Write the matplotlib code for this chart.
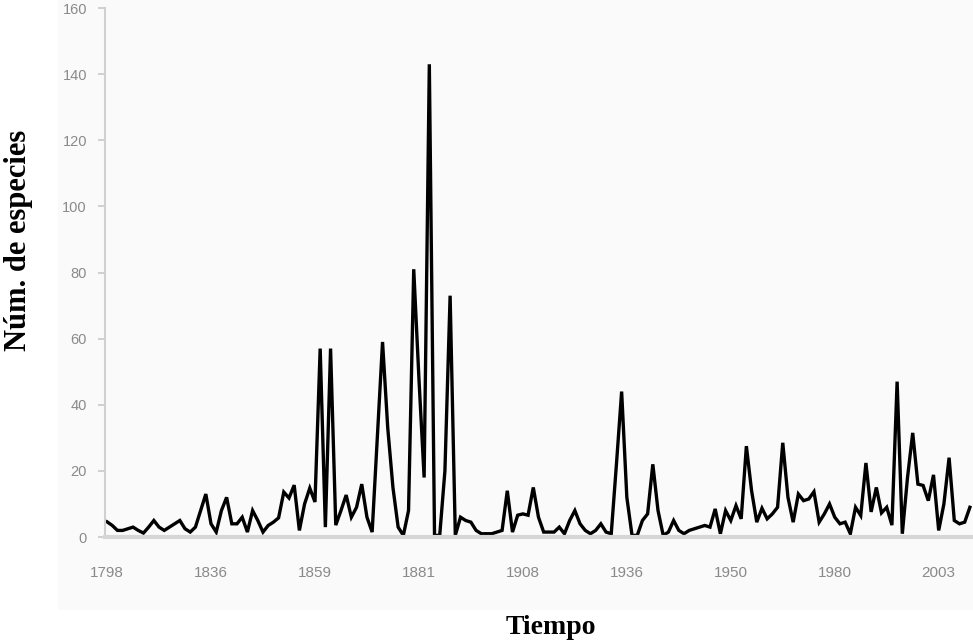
import numpy as np
import matplotlib
matplotlib.use('Agg')
import matplotlib.pyplot as plt
from matplotlib.patches import Rectangle

# years shown on the category axis (one label every 20 categories)
tick_years = ['1798', '1836', '1859', '1881', '1908', '1936', '1950', '1980', '2003']
label_step = 20

# number of species described per year
especies = [
    4.6, 3.5, 2, 2, 2.5, 3, 2, 1.2, 3, 5,
    3, 2, 3, 4, 5, 2.5, 1.5, 3, 8, 13,
    4, 1.5, 8, 12, 4, 4, 6, 1.5, 8, 5,
    1.5, 3.5, 4.5, 5.8, 13.6, 11.8, 15.7, 2, 10, 14.8,
    10.6, 57, 3, 57, 3.6, 8, 12.7, 6, 9, 16,
    6, 1.5, 30, 59, 33, 15, 3, 0.5, 8, 81,
    48, 18, 143, 0.5, 0.5, 20, 73, 0.5, 6, 5,
    4.5, 2, 1, 1, 1, 1.5, 2, 14, 1.5, 6.6,
    7, 6.6, 15, 6, 1.5, 1.5, 1.5, 3, 1, 5,
    8, 4, 2, 1, 2, 4, 1.5, 1, 22, 44,
    12, 0.5, 0.5, 5, 7, 22, 8, 0.5, 1.5, 5,
    2, 1, 2, 2.5, 3, 3.5, 3, 8.5, 1, 8,
    5, 9.5, 5.5, 27.5, 14, 4.5, 8.7, 5.5, 7, 9,
    28.5, 12, 4.5, 13, 11, 11.5, 13.7, 4.5, 7, 10,
    6, 4, 4.5, 1, 9, 6.5, 22.4, 7.6, 15, 7.3,
    9, 3.6, 47, 1, 18, 31.5, 16, 15.6, 11, 18.8,
    2, 10, 24, 5, 4, 4.5, 9,
]

x = np.arange(len(especies))

fig = plt.figure(figsize=(9.73, 6.44), dpi=100)

# light chart area behind the plot
fig.patches.append(Rectangle((0.06, 0.053), 0.94, 0.947, transform=fig.transFigure,
                             facecolor='#fafafa', edgecolor='none', zorder=-1))

ax = fig.add_axes([0.1079, 0.1661, 0.8921, 0.8214])
ax.patch.set_alpha(0)

ax.plot(x, especies, color='black', linewidth=2.4, solid_joinstyle='miter')

ax.set_xlim(-0.4, len(especies) - 0.4)
ax.set_ylim(0, 160)
ax.set_yticks(np.arange(0, 161, 20))
ax.set_xticks(np.arange(0, len(tick_years) * label_step, label_step))
ax.set_xticklabels(tick_years)

for side in ['top', 'right']:
    ax.spines[side].set_visible(False)
ax.spines['left'].set_color('#d0d0d0')
ax.spines['left'].set_linewidth(1.5)
ax.spines['bottom'].set_color('#d6d6d6')
ax.spines['bottom'].set_linewidth(3)

ax.tick_params(axis='x', length=0, pad=21, labelsize=11, labelcolor='#8a8a8a')
ax.tick_params(axis='y', length=5, width=1.2, color='#c8c8c8', pad=8,
               labelsize=10.5, labelcolor='#8a8a8a')
for lab in ax.get_xticklabels() + ax.get_yticklabels():
    lab.set_fontfamily('Liberation Sans')

fig.text(0.019, 0.626, 'Núm. de especies', rotation=90, ha='center', va='center',
         fontsize=22, fontweight='bold', family='Liberation Serif')
fig.text(0.566, 0.025, 'Tiempo', ha='center', va='center',
         fontsize=20, fontweight='bold', family='Liberation Serif')

fig.savefig('out.png', dpi=100)
